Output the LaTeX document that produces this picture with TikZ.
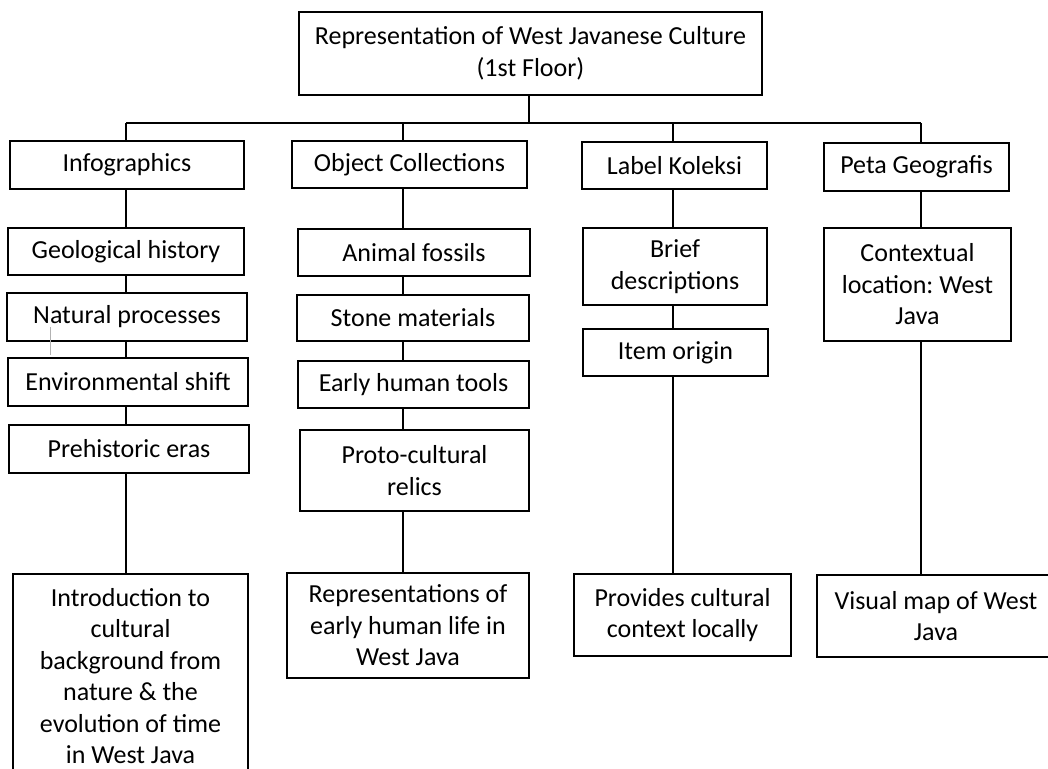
\documentclass[tikz,border=0pt]{standalone}
\usepackage{fontspec}
\setmainfont{Carlito}
\frenchspacing
\usepackage{tikz}
\usetikzlibrary{positioning, calc}

\begin{document}
\begin{tikzpicture}[x=1pt, y=-1pt,
    box/.style={draw, line width=1.5pt, inner sep=0pt, align=center,
        font=\fontsize{26}{31.5}\selectfont},
    link/.style={line width=1.5pt}]
    \useasboundingbox (0,0) rectangle (1048,768);

    % Title
    \node[box, minimum width=463, minimum height=83] (top) at (530.5, 53.5) {Representation of West Javanese Culture\\(1st Floor)};

    % Main branches
    \node[box, minimum width=234, minimum height=48] (info) at (127, 165) {Infographics};
    \node[box, minimum width=235, minimum height=47] (obj) at (409.5, 164.5) {Object Collections};
    \node[box, minimum width=185, minimum height=47] (lbl) at (674.5, 165.5) {Label Koleksi};
    \node[box, minimum width=185, minimum height=48] (map) at (916.5, 167) {Peta Geografis};

    % Infographics column
    \node[box, minimum width=236, minimum height=47] (geo) at (126, 251.5) {Geological history};
    \node[box, minimum width=240, minimum height=48] (nat) at (127, 317) {Natural processes};
    \node[box, minimum width=240, minimum height=48] (env) at (128, 382) {Environmental shift};
    \node[box, minimum width=240, minimum height=48] (pre) at (129, 449) {Prehistoric eras};
    \node[box, minimum width=235, minimum height=204] (intro) at (130.5, 676) {Introduction to\\cultural\\background from\\nature \& the\\evolution of time\\in West Java};

    % Object collections column
    \node[box, minimum width=232, minimum height=47] (fossil) at (414, 252.5) {Animal fossils};
    \node[box, minimum width=232, minimum height=46] (stone) at (413, 318) {Stone materials};
    \node[box, minimum width=231, minimum height=47] (tools) at (413.5, 384.5) {Early human tools};
    \node[box, minimum width=229, minimum height=81] (relic) at (414.5, 470.5) {Proto-cultural\\relics};
    \node[box, minimum width=242, minimum height=105] (life) at (408, 625.5) {Representations of\\early human life in\\West Java};

    % Label column
    \node[box, minimum width=184, minimum height=77] (brief) at (675, 266.5) {Brief\\descriptions};
    \node[box, minimum width=185, minimum height=47] (origin) at (675.5, 352.5) {Item origin};
    \node[box, minimum width=217, minimum height=82] (local) at (682.5, 615) {Provides cultural\\context locally};

    % Map column
    \node[box, minimum width=187, minimum height=113] (place) at (917.5, 284.5) {Contextual\\location: West\\Java};
    \node[box, minimum width=238, minimum height=82] (visual) at (936, 616) {Visual map of West\\Java};

    % Connectors
    \coordinate (cA) at (126, 123);
    \coordinate (cB) at (403, 123);
    \coordinate (cC) at (673, 123);
    \coordinate (cD) at (921, 123);
    \draw[link] (cA) -- (cD);
    \draw[link] (top.south -| 529,0) -- (cA -| 529,0);
    \foreach \c/\n in {cA/info, cB/obj, cC/lbl, cD/map}
        \draw[link] (\c) -- (\c |- \n.north);
    \foreach \a/\b/\c in {info/geo/cA, geo/nat/cA, nat/env/cA, env/pre/cA, pre/intro/cA,
        obj/fossil/cB, fossil/stone/cB, stone/tools/cB, tools/relic/cB, relic/life/cB,
        lbl/brief/cC, brief/origin/cC, origin/local/cC,
        map/place/cD, place/visual/cD}
        \draw[link] (\a.south -| \c) -- (\b.north -| \c);

    % stray mark
    \draw[gray!60, line width=0.8pt] (50, 327) -- (50, 355);
\end{tikzpicture}
\end{document}
